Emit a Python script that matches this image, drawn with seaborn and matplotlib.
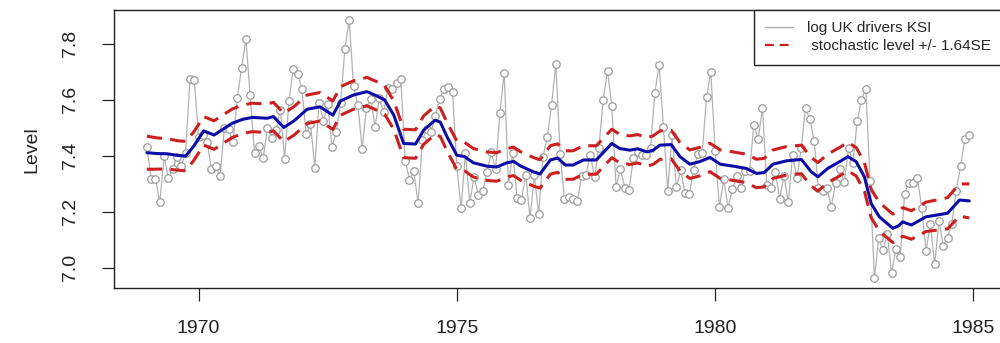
import numpy as np
import pandas as pd
import matplotlib
matplotlib.use("Agg")
import matplotlib.pyplot as plt
import seaborn as sns
from matplotlib.lines import Line2D

# UK drivers killed or seriously injured, monthly 1969-1984
drivers = [
    1687, 1508, 1507, 1385, 1632, 1511, 1559, 1630, 1579, 1653, 2152, 2148,
    1752, 1765, 1717, 1558, 1575, 1520, 1805, 1800, 1719, 2008, 2242, 2478,
    2030, 1655, 1693, 1623, 1805, 1746, 1795, 1926, 1619, 1992, 2233, 2192,
    2080, 1768, 1835, 1569, 1976, 1853, 1965, 1689, 1778, 1976, 2397, 2654,
    2097, 1963, 1677, 1941, 2003, 1813, 2012, 1912, 2084, 2080, 2118, 2150,
    1608, 1503, 1548, 1382, 1731, 1798, 1779, 1887, 2004, 2077, 2092, 2051,
    1577, 1356, 1652, 1382, 1519, 1421, 1442, 1543, 1656, 1561, 1905, 2199,
    1473, 1655, 1407, 1395, 1530, 1309, 1526, 1327, 1627, 1748, 1958, 2274,
    1648, 1401, 1411, 1403, 1394, 1520, 1528, 1643, 1515, 1685, 2000, 2215,
    1956, 1462, 1563, 1459, 1446, 1622, 1657, 1638, 1643, 1683, 2050, 2262,
    1813, 1445, 1762, 1461, 1556, 1431, 1427, 1554, 1645, 1653, 2016, 2207,
    1665, 1361, 1506, 1360, 1453, 1522, 1460, 1552, 1548, 1827, 1737, 1941,
    1474, 1458, 1542, 1404, 1522, 1385, 1641, 1510, 1681, 1938, 1868, 1726,
    1456, 1445, 1456, 1365, 1487, 1558, 1488, 1684, 1594, 1850, 1998, 2079,
    1494, 1057, 1218, 1168, 1236, 1076, 1174, 1139, 1427, 1487, 1483, 1513,
    1357, 1165, 1282, 1110, 1297, 1185, 1222, 1284, 1444, 1575, 1737, 1763,
]
start_year = 1969

# smoothed stochastic level
level_time = [
    1969.00, 1969.20, 1969.40, 1969.60, 1969.75, 1969.91, 1970.10, 1970.30, 1970.50, 1970.65,
    1970.85, 1971.04, 1971.33, 1971.45, 1971.65, 1971.85, 1972.10, 1972.35, 1972.60, 1972.75,
    1973.00, 1973.26, 1973.46, 1973.60, 1973.78, 1973.97, 1974.20, 1974.36, 1974.58, 1974.68,
    1974.81, 1975.00, 1975.15, 1975.32, 1975.58, 1975.77, 1975.97, 1976.10, 1976.23, 1976.48,
    1976.61, 1976.81, 1976.95, 1977.10, 1977.25, 1977.45, 1977.70, 1978.00, 1978.15, 1978.35,
    1978.50, 1978.68, 1978.80, 1978.93, 1979.15, 1979.32, 1979.51, 1979.70, 1979.90, 1980.10,
    1980.35, 1980.60, 1980.80, 1980.95, 1981.12, 1981.38, 1981.67, 1981.86, 1981.99, 1982.18,
    1982.41, 1982.57, 1982.73, 1982.89, 1983.02, 1983.18, 1983.44, 1983.55, 1983.63, 1983.80,
    1984.08, 1984.34, 1984.50, 1984.73, 1984.92,
]
level_value = [
    7.411, 7.408, 7.407, 7.401, 7.399, 7.435, 7.489, 7.474, 7.498, 7.516,
    7.530, 7.537, 7.534, 7.540, 7.501, 7.525, 7.566, 7.575, 7.545, 7.596,
    7.617, 7.629, 7.613, 7.600, 7.545, 7.444, 7.442, 7.492, 7.527, 7.520,
    7.468, 7.402, 7.397, 7.375, 7.363, 7.360, 7.375, 7.380, 7.364, 7.343,
    7.335, 7.385, 7.392, 7.367, 7.367, 7.385, 7.385, 7.444, 7.426, 7.420,
    7.425, 7.414, 7.420, 7.438, 7.440, 7.397, 7.370, 7.379, 7.394, 7.370,
    7.363, 7.355, 7.337, 7.340, 7.370, 7.382, 7.387, 7.343, 7.325, 7.355,
    7.379, 7.397, 7.379, 7.325, 7.230, 7.182, 7.141, 7.150, 7.164, 7.153,
    7.182, 7.190, 7.195, 7.242, 7.239,
]
level_se = [
    0.036, 0.034, 0.033, 0.032, 0.032, 0.031, 0.031, 0.031, 0.031, 0.031,
    0.031, 0.031, 0.031, 0.031, 0.031, 0.031, 0.031, 0.031, 0.031, 0.031,
    0.031, 0.031, 0.031, 0.031, 0.031, 0.031, 0.031, 0.031, 0.031, 0.031,
    0.031, 0.031, 0.031, 0.031, 0.031, 0.031, 0.031, 0.031, 0.031, 0.031,
    0.031, 0.031, 0.031, 0.031, 0.031, 0.031, 0.031, 0.031, 0.031, 0.031,
    0.031, 0.031, 0.031, 0.031, 0.031, 0.031, 0.031, 0.031, 0.031, 0.031,
    0.031, 0.031, 0.031, 0.031, 0.031, 0.031, 0.031, 0.031, 0.031, 0.031,
    0.031, 0.031, 0.031, 0.031, 0.031, 0.031, 0.031, 0.031, 0.031, 0.031,
    0.032, 0.033, 0.034, 0.035, 0.037,
]
z_mult = 1.64

x_ticks = [1970, 1975, 1980, 1985]
y_ticks = [7.0, 7.2, 7.4, 7.6, 7.8]
y_label = "Level"
legend_labels = ["log UK drivers KSI", " stochastic level +/- 1.64SE"]

GREY_LINE = "#b2b2b2"
GREY_PT = "#9c9c9c"
BLUE = "#0c0ca6"
RED = "#cc1f1f"
DASH = (0, (5, 2.7))

sns.set_style("white")
plt.rcParams["font.family"] = ["Liberation Sans", "DejaVu Sans"]

obs = pd.DataFrame({
    "t": start_year + np.arange(len(drivers)) / 12.0,
    "y": np.log(np.array(drivers, dtype=float)),
})
lev = pd.DataFrame({"t": level_time, "level": level_value, "se": level_se})
lev["upper"] = lev["level"] + z_mult * lev["se"]
lev["lower"] = lev["level"] - z_mult * lev["se"]

fig = plt.figure(figsize=(10, 3.43), dpi=100)
ax = fig.add_axes([0.114, 0.159, 0.888, 0.812])

sns.lineplot(data=obs, x="t", y="y", ax=ax, color=GREY_LINE, lw=0.9,
             marker="o", markersize=5.4, markerfacecolor="white",
             markeredgecolor=GREY_PT, markeredgewidth=0.9, zorder=2)
sns.lineplot(data=lev, x="t", y="level", ax=ax, color=BLUE, lw=2.2, zorder=4)
for col in ["upper", "lower"]:
    sns.lineplot(data=lev, x="t", y=col, ax=ax, color=RED, lw=2.2,
                 linestyle=DASH, zorder=3)

# R-like axis ranges (data range extended 4%)
x0, x1 = obs["t"].min(), obs["t"].max()
y0, y1 = obs["y"].min(), obs["y"].max()
ax.set_xlim(x0 - 0.04 * (x1 - x0), x1 + 0.04 * (x1 - x0))
ax.set_ylim(y0 - 0.04 * (y1 - y0), y1 + 0.04 * (y1 - y0))

ax.set_xticks(x_ticks)
ax.set_xticklabels([str(v) for v in x_ticks])
ax.set_yticks(y_ticks)
ax.set_yticklabels([f"{v:.1f}" for v in y_ticks])
ax.tick_params(axis="both", which="major", direction="out", length=9, width=0.9,
               color="#222222", labelsize=14, labelcolor="#222222",
               left=True, bottom=True)
ax.tick_params(axis="x", pad=14)
ax.tick_params(axis="y", pad=16)
for lab in ax.get_yticklabels():
    lab.set_rotation(90)
    lab.set_va("center")

ax.set_xlabel("")
ax.set_ylabel(y_label, fontsize=14, color="#222222")
ax.yaxis.set_label_coords(-0.083, 0.5)

for s in ax.spines.values():
    s.set_visible(True)
    s.set_color("#222222")
    s.set_linewidth(1.0)

handles = [
    Line2D([], [], color=GREY_LINE, lw=1.0),
    Line2D([], [], color=RED, lw=1.6, linestyle=(0, (4, 2.6))),
]
leg = ax.legend(handles, legend_labels, loc="upper right", bbox_to_anchor=(1.0, 1.0),
                borderaxespad=0.0, fancybox=False, framealpha=1.0, edgecolor="#222222",
                fontsize=11, handlelength=1.8, handletextpad=0.9, borderpad=0.75,
                labelspacing=0.25)
leg.get_frame().set_linewidth(1.0)

fig.savefig("out.png", dpi=100)
